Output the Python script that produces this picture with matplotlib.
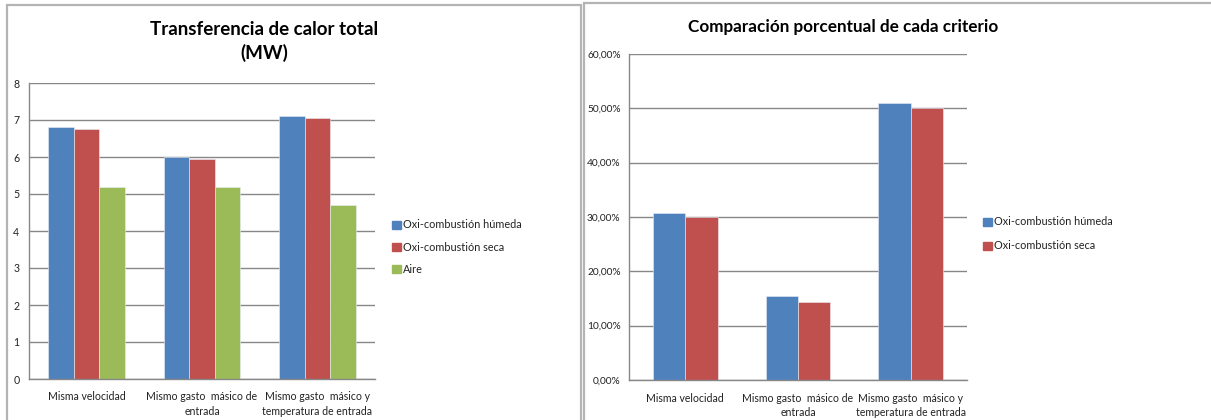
import matplotlib
matplotlib.use("Agg")
import matplotlib.pyplot as plt
import numpy as np
from matplotlib.patches import Rectangle, Patch

plt.rcParams['font.family'] = ['Lato', 'DejaVu Sans']

# Data
categories = ["Misma velocidad",
              "Mismo gasto  másico de\nentrada",
              "Mismo gasto  másico y\ntemperatura de entrada"]
series_names = ["Oxi-combustión húmeda", "Oxi-combustión seca", "Aire"]
heat_humeda = [6.8, 6.0, 7.1]
heat_seca = [6.75, 5.95, 7.05]
heat_aire = [5.2, 5.2, 4.7]
pct_humeda = [30.8, 15.5, 51.0]
pct_seca = [30.0, 14.3, 50.0]
heat_ticks = [0, 1, 2, 3, 4, 5, 6, 7, 8]
pct_ticks = [0, 10, 20, 30, 40, 50, 60]

colors = ["#4F81BD", "#C0504D", "#9BBB59"]
W, H = 1211, 420
fig = plt.figure(figsize=(W / 100, H / 100), dpi=100)
fig.patch.set_facecolor("white")

def px(x0, y0, x1, y1):
    return [x0 / W, 1 - y1 / H, (x1 - x0) / W, (y1 - y0) / H]

# Chart frames
for (x0, y0, x1) in [(7, 5, 580.5), (583.5, 3, 1215)]:
    fig.add_artist(Rectangle((x0 / W, -0.05), (x1 - x0) / W, 1.05 - y0 / H,
                             transform=fig.transFigure, fill=False,
                             edgecolor="#B4B4B4", linewidth=1.6))

grid_c = "#878787"
txt_c = "#222222"

def style_axes(ax, ymax, ticks, labels, ypad, ysize):
    ax.set_xlim(-0.5, 2.5)
    ax.set_ylim(0, ymax)
    ax.set_yticks(ticks)
    ax.set_yticklabels(labels)
    ax.yaxis.grid(True, color=grid_c, linewidth=1.0)
    ax.set_axisbelow(True)
    for s in ["top", "right"]:
        ax.spines[s].set_visible(False)
    for s in ["left", "bottom"]:
        ax.spines[s].set_color(grid_c)
        ax.spines[s].set_linewidth(1.0)
    ax.set_xticks(range(len(categories)))
    ax.set_xticklabels(categories, fontsize=7.6, color=txt_c, linespacing=1.35)
    ax.tick_params(axis="x", length=0, pad=9)
    ax.tick_params(axis="y", length=0, labelsize=ysize, labelcolor=txt_c,
                   pad=ypad)

def draw_bars(ax, series):
    n = len(series)
    w = 1.0 / (n + 1.5)
    x = np.arange(len(categories))
    for i, vals in enumerate(series):
        off = (i - (n - 1) / 2) * w
        ax.bar(x + off, vals, width=w, color=colors[i],
               edgecolor="#E8EEF6", linewidth=0.4)

# Left chart: total heat transfer
ax1 = fig.add_axes(px(29, 83, 375, 379))
draw_bars(ax1, [heat_humeda, heat_seca, heat_aire])
style_axes(ax1, 8, heat_ticks, [str(t) for t in heat_ticks], 7, 7.6)
fig.text(264 / W, 1 - 41.5 / H, "Transferencia de calor total\n(MW)",
         ha="center", va="center", fontsize=13.5, fontweight="bold",
         linespacing=1.35, color="black")
h1 = [Patch(color=colors[i]) for i in range(3)]
fig.legend(h1, series_names, loc="upper left",
           bbox_to_anchor=(387 / W, 1 - 214 / H), frameon=False,
           fontsize=7.8, handlelength=0.75, handleheight=0.75,
           handletextpad=0.25, labelspacing=1.05, borderpad=0,
           labelcolor=txt_c)

# Right chart: percentage comparison
ax2 = fig.add_axes(px(629, 54, 967, 380))
draw_bars(ax2, [pct_humeda, pct_seca])
style_axes(ax2, 60, pct_ticks,
           [f"{t:.2f}%".replace(".", ",") for t in pct_ticks], 6, 7.3)
fig.text(843 / W, 1 - 27 / H, "Comparación porcentual de cada criterio",
         ha="center", va="center", fontsize=12.3, fontweight="bold",
         color="black")
h2 = [Patch(color=colors[i]) for i in range(2)]
fig.legend(h2, series_names[:2], loc="upper left",
           bbox_to_anchor=(978 / W, 1 - 211 / H), frameon=False,
           fontsize=7.8, handlelength=0.75, handleheight=0.75,
           handletextpad=0.25, labelspacing=1.2, borderpad=0,
           labelcolor=txt_c)

fig.savefig("out.png", dpi=100, facecolor="white")
